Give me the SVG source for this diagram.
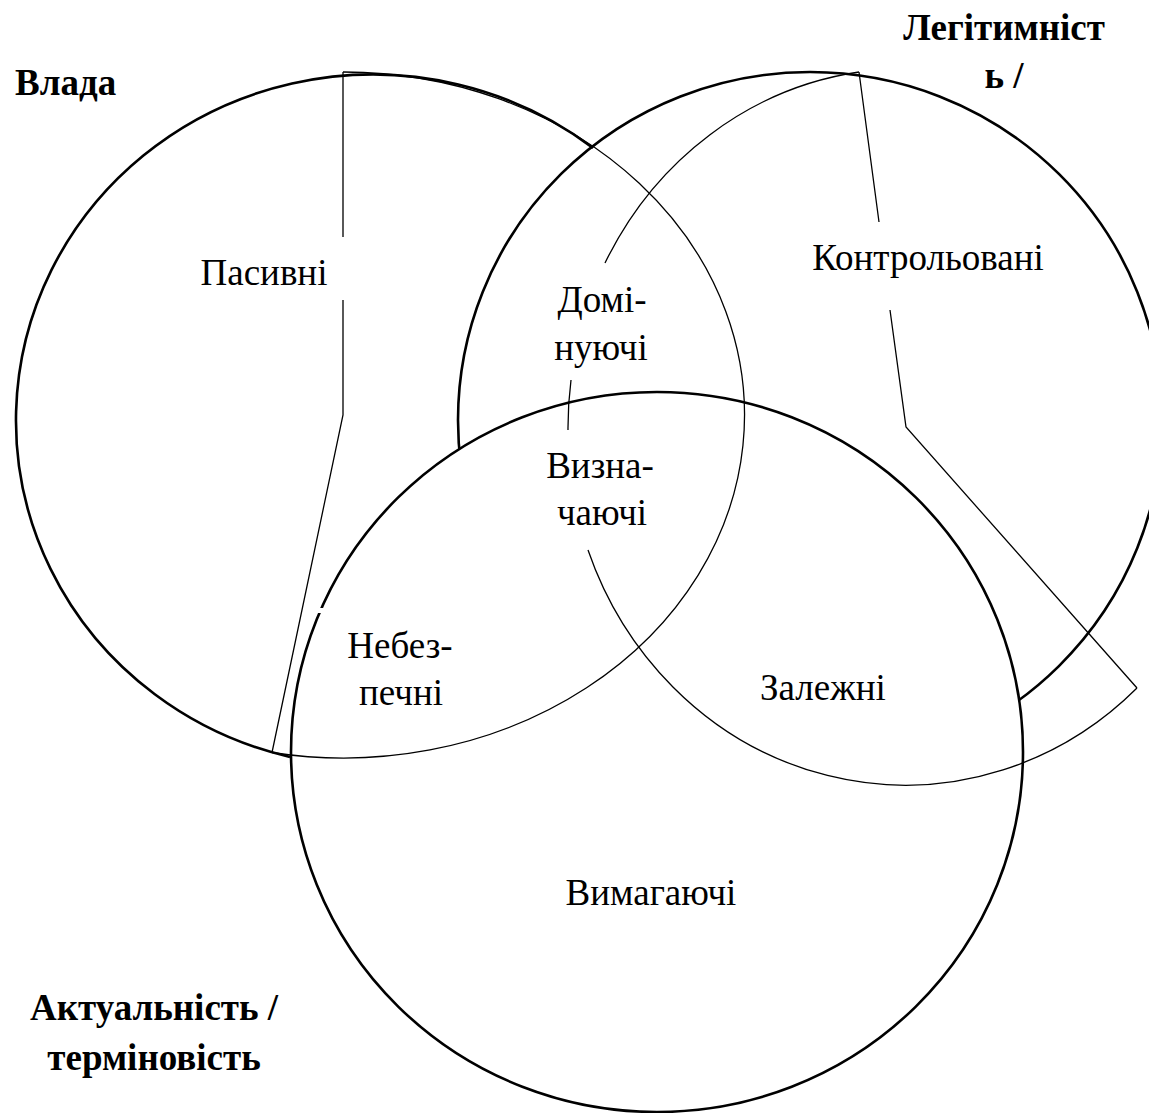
<svg xmlns="http://www.w3.org/2000/svg" width="1149" height="1113" viewBox="0 0 1149 1113">
<style>
.thick{fill:none;stroke:#000;stroke-width:2.6}
.thin{fill:none;stroke:#000;stroke-width:1.3}
.lbl{font-family:"Liberation Serif","Times New Roman",serif;font-size:37px;fill:#000;text-anchor:middle}
.ttl{font-family:"Liberation Serif","Times New Roman",serif;font-size:37px;font-weight:bold;fill:#000}
</style>
<rect width="1149" height="1113" fill="#fff"/>
<g id="circle-legitimacy">
<ellipse class="thick" cx="810" cy="420" rx="352" ry="348"/>
</g>
<g id="circle-urgency">
<ellipse cx="657" cy="752" rx="366" ry="360" fill="#fff" stroke="#000" stroke-width="2.6"/>
<rect x="316" y="608" width="12" height="5" fill="#fff"/>
</g>
<g id="circle-power">
<path class="thick" d="M593,148 A357,346 0 1 0 290,757"/>
</g>
<g id="connectors">
<path class="thin" d="M343,72 A401,343 0 1 1 272,752.5"/>
<path class="thin" d="M343,72 L343,237 M343,300 L343,415 L272,752.5"/>
<path class="thin" d="M859,72 A338,358 0 0 0 605,263 M571,380 A338,358 0 0 0 568,430 M588,550 A338,358 0 0 0 1137,688"/>
<path class="thin" d="M859,72 L879,222 M890,310 L906,427 L1137,688"/>
</g>
<g id="labels">
<text class="ttl" x="15" y="95">Влада</text>
<text class="ttl" x="1004" y="40" text-anchor="middle">Легітимніст</text>
<text class="ttl" x="1004" y="88" text-anchor="middle">ь /</text>
<text class="ttl" x="154" y="1020" text-anchor="middle">Актуальність /</text>
<text class="ttl" x="154" y="1070" text-anchor="middle">терміновість</text>
</g>
<g id="node-passive"><text class="lbl" x="264" y="285">Пасивні</text></g>
<g id="node-dominant"><text class="lbl" x="602" y="312">Домі-</text><text class="lbl" x="601" y="360">нуючі</text></g>
<g id="node-definitive"><text class="lbl" x="600" y="478">Визна-</text><text class="lbl" x="602" y="525">чаючі</text></g>
<g id="node-controlled"><text class="lbl" x="928" y="270">Контрольовані</text></g>
<g id="node-dangerous"><text class="lbl" x="400" y="658">Небез-</text><text class="lbl" x="401" y="705">печні</text></g>
<g id="node-dependent"><text class="lbl" x="823" y="700">Залежні</text></g>
<g id="node-demanding"><text class="lbl" x="651" y="905">Вимагаючі</text></g>
</svg>
